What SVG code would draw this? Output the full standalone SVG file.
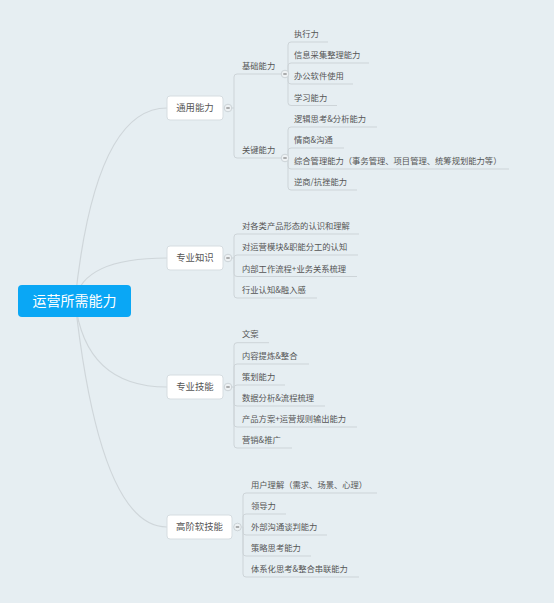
<svg xmlns="http://www.w3.org/2000/svg" width="554" height="603" viewBox="0 0 554 603">
<style>
.curve{fill:none;stroke:#cfd6da;stroke-width:1.2}
.br{fill:none;stroke:#cdd4d8;stroke-width:1}
.box{fill:#fff;stroke:#d6dde1;stroke-width:1}
.nt{font-family:"Noto Sans CJK SC","Noto Sans",sans-serif;font-size:9.4px;fill:#555;text-anchor:middle}
.t{font-family:"Noto Sans CJK SC","Noto Sans",sans-serif;font-size:8.3px;fill:#555}
.col circle{fill:#eef2f4;stroke:#ccd3d7;stroke-width:1}
.col line{stroke:#666;stroke-width:1}
</style>
<rect width="554" height="603" fill="#e6eef2"/>
<g id="connectors">
<path class="curve" d="M75,301 Q95,108 167,108"/>
<path class="curve" d="M75,301 Q82,258 167,258"/>
<path class="curve" d="M75,301 Q85,387 167,387"/>
<path class="curve" d="M75,301 Q100,527 167,527"/>
<!-- 通用能力 -->
<path class="br" d="M232,108 H234 M234,108 V77 Q234,74 237,74 H283 M234,108 V155 Q234,158 237,158 H283"/>
<!-- 基础能力 -->
<path class="br" d="M288,74 V45 Q288,42 291,42 H328 M288,74 V66 Q288,63 291,63 H369 M288,74 V81 Q288,84 291,84 H353 M288,74 V102.5 Q288,105.5 291,105.5 H337"/>
<!-- 关键能力 -->
<path class="br" d="M288,158 V130 Q288,127 291,127 H377 M288,158 V151 Q288,148 291,148 H344 M288,158 V166 Q288,169 291,169 H509 M288,158 V187 Q288,190 291,190 H357"/>
<!-- 专业知识 -->
<path class="br" d="M232,258 H234 M234,258 V237 Q234,234 237,234 H359 M234,258 V258 Q234,255 237,255 H358 M234,258 V273.5 Q234,276.5 237,276.5 H357 M234,258 V295 Q234,298 237,298 H317"/>
<!-- 专业技能 -->
<path class="br" d="M232,387 H234 M234,387 V345.7 Q234,342.7 237,342.7 H269 M234,387 V367 Q234,364 237,364 H309 M234,387 V388 Q234,385 237,385 H285 M234,387 V403 Q234,406 237,406 H325 M234,387 V424 Q234,427 237,427 H357 M234,387 V445 Q234,448 237,448 H292"/>
<!-- 高阶软技能 -->
<path class="br" d="M241.5,527 H243 M243,527 V496 Q243,493 246,493 H377 M243,527 V517 Q243,514 246,514 H286 M243,527 V532 Q243,535 246,535 H327 M243,527 V553 Q243,556 246,556 H311 M243,527 V574 Q243,577 246,577 H359"/>
</g>
<g id="root">
<rect x="18" y="285" width="113" height="32" rx="4" fill="#0aa7f5"/>
<text x="74.5" y="306" font-family="Noto Sans CJK SC, Noto Sans, sans-serif" font-size="14" fill="#fff" text-anchor="middle">运营所需能力</text>
</g>
<g id="n-tongyong">
<rect class="box" x="167" y="96" width="56" height="24" rx="3"/>
<text class="nt" x="195" y="111.4">通用能力</text>
<g class="col"><circle cx="228" cy="108" r="3.8"/><line x1="226.3" y1="108" x2="229.7" y2="108"/></g>
</g>
<g id="n-jichu">
<text class="t" x="242" y="69">基础能力</text>
<g class="col"><circle cx="285" cy="74" r="3.8"/><line x1="283.3" y1="74" x2="286.7" y2="74"/></g>
</g>
<g id="n-jichu-items">
<text class="t" x="294" y="37">执行力</text>
<text class="t" x="294" y="58">信息采集整理能力</text>
<text class="t" x="294" y="79">办公软件使用</text>
<text class="t" x="294" y="100.5">学习能力</text>
</g>
<g id="n-guanjian">
<text class="t" x="242" y="153">关键能力</text>
<g class="col"><circle cx="285" cy="158" r="3.8"/><line x1="283.3" y1="158" x2="286.7" y2="158"/></g>
</g>
<g id="n-guanjian-items">
<text class="t" x="294" y="121.5">逻辑思考&amp;分析能力</text>
<text class="t" x="294" y="142.5">情商&amp;沟通</text>
<text class="t" x="294" y="163.5">综合管理能力（事务管理、项目管理、统筹规划能力等）</text>
<text class="t" x="294" y="184.5">逆商/抗挫能力</text>
</g>
<g id="n-zhishi">
<rect class="box" x="167" y="246" width="56" height="24" rx="3"/>
<text class="nt" x="195" y="261.4">专业知识</text>
<g class="col"><circle cx="228" cy="258" r="3.8"/><line x1="226.3" y1="258" x2="229.7" y2="258"/></g>
<text class="t" x="242" y="229">对各类产品形态的认识和理解</text>
<text class="t" x="242" y="250">对运营模块&amp;职能分工的认知</text>
<text class="t" x="242" y="271.5">内部工作流程+业务关系梳理</text>
<text class="t" x="242" y="293">行业认知&amp;融入感</text>
</g>
<g id="n-jineng">
<rect class="box" x="167" y="375" width="56" height="24" rx="3"/>
<text class="nt" x="195" y="390.4">专业技能</text>
<g class="col"><circle cx="228" cy="387" r="3.8"/><line x1="226.3" y1="387" x2="229.7" y2="387"/></g>
<text class="t" x="242" y="337">文案</text>
<text class="t" x="242" y="358.5">内容提炼&amp;整合</text>
<text class="t" x="242" y="379.7">策划能力</text>
<text class="t" x="242" y="401">数据分析&amp;流程梳理</text>
<text class="t" x="242" y="422">产品方案+运营规则输出能力</text>
<text class="t" x="242" y="443">营销&amp;推广</text>
</g>
<g id="n-ruanjineng">
<rect class="box" x="167" y="515" width="65" height="24" rx="3"/>
<text class="nt" x="199.5" y="530.4">高阶软技能</text>
<g class="col"><circle cx="237.5" cy="527" r="3.8"/><line x1="235.8" y1="527" x2="239.2" y2="527"/></g>
<text class="t" x="251" y="488">用户理解（需求、场景、心理）</text>
<text class="t" x="251" y="509">领导力</text>
<text class="t" x="251" y="530">外部沟通谈判能力</text>
<text class="t" x="251" y="551">策略思考能力</text>
<text class="t" x="251" y="572">体系化思考&amp;整合串联能力</text>
</g>
</svg>
